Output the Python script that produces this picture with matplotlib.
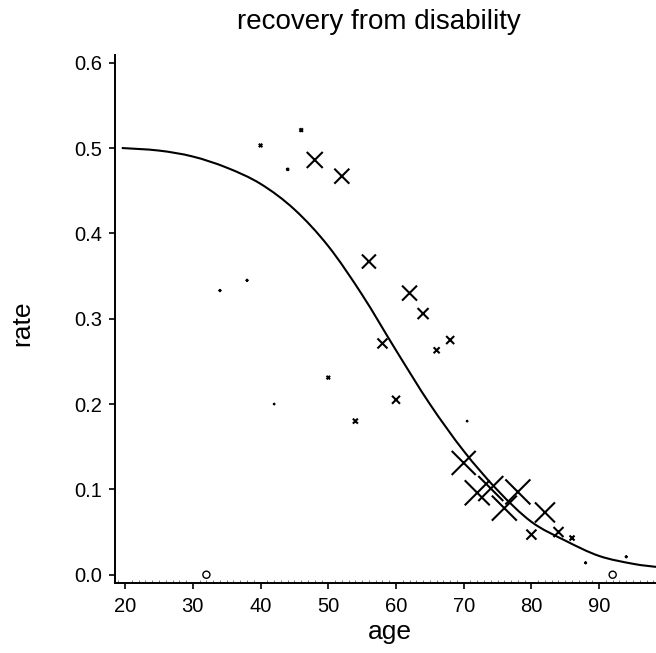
import numpy as np
import matplotlib
matplotlib.use("Agg")
import matplotlib.pyplot as plt
from matplotlib.path import Path
from matplotlib.patches import PathPatch

plt.rcParams['font.family'] = ['Liberation Sans', 'DejaVu Sans']

# observed crude recovery rates by age, with relative exposure (marker size)
ages = [34, 38, 40, 42, 44, 46, 48, 50, 52, 54, 56, 58, 60, 62, 64, 66, 68,
        70.5, 70, 72, 74, 76, 78, 80, 82, 84, 86, 88, 94]
rates = [0.333, 0.345, 0.503, 0.200, 0.475, 0.521, 0.486, 0.231, 0.467, 0.180,
         0.367, 0.271, 0.205, 0.330, 0.306, 0.263, 0.275,
         0.180, 0.131, 0.096, 0.101, 0.078, 0.097, 0.047, 0.073, 0.050, 0.043,
         0.014, 0.021]
exposure = [2, 2, 3.5, 1.5, 2.5, 3.5, 16, 3.5, 15, 5, 14, 10, 8, 15, 11, 6, 8,
            1.5, 24, 25, 25, 25, 25, 10, 20, 10, 5, 2, 2]

# zero-rate observations (open circles)
zero_ages = [32, 92]
zero_rates = [0.0, 0.0]

# fitted curve
curve_ages = [19.5, 25, 30, 35, 40, 45, 50, 55, 60, 65, 70, 75, 80, 85, 90, 95, 98.4]
curve_rates = [0.500, 0.497, 0.490, 0.477, 0.458, 0.428, 0.385, 0.328, 0.263,
               0.200, 0.145, 0.099, 0.062, 0.040, 0.022, 0.0128, 0.0092]

xticks = [20, 30, 40, 50, 60, 70, 80, 90]
yticks = [0.0, 0.1, 0.2, 0.3, 0.4, 0.5, 0.6]

fig = plt.figure(figsize=(6.56, 6.53), dpi=100)
ax = fig.add_axes([115/656, 1-583/653, 1-115/656, (583-55)/653])
ax.set_xlim(18.5, 98.4)
ax.set_ylim(-0.0097, 0.609)

# smooth curve through read points (Catmull-Rom -> cubic Bezier)
P = np.column_stack([curve_ages, curve_rates])
verts = [tuple(P[0])]
codes = [Path.MOVETO]
n = len(P)
for i in range(n - 1):
    p0 = P[i - 1] if i > 0 else P[i]
    p1 = P[i]
    p2 = P[i + 1]
    p3 = P[i + 2] if i + 2 < n else P[i + 1]
    c1 = p1 + (p2 - p0) / 6.0
    c2 = p2 - (p3 - p1) / 6.0
    verts += [tuple(c1), tuple(c2), tuple(p2)]
    codes += [Path.CURVE4] * 3
ax.add_patch(PathPatch(Path(verts, codes), fill=False, edgecolor='black',
                       lw=1.5, transform=ax.transData, clip_on=False))

sizes = [(e / 1.389) ** 2 for e in exposure]
ax.scatter(ages, rates, s=sizes, marker='x', color='black', linewidths=1.5,
           clip_on=False, zorder=3)
ax.scatter(zero_ages, zero_rates, s=26, marker='o', facecolors='none',
           edgecolors='black', linewidths=1.0, clip_on=False, zorder=3)

for side in ['top', 'right']:
    ax.spines[side].set_visible(False)
for side in ['left', 'bottom']:
    ax.spines[side].set_linewidth(1.4)

ax.set_xticks(xticks)
ax.set_xticklabels([str(t) for t in xticks])
ax.set_yticks(yticks)
ax.set_yticklabels([f"{t:.1f}" for t in yticks])
ax.set_xticks(np.arange(19, 99, 1), minor=True)
ax.tick_params(axis='both', which='major', labelsize=14.5, length=4, width=1.2,
               direction='out', color='black')
ax.tick_params(axis='x', which='major', pad=6)
ax.tick_params(axis='y', which='major', pad=5)
ax.tick_params(axis='x', which='minor', length=2.5, width=0.5, direction='in',
               color='#444444')

fig.text(0.577, 1 - 22/653, 'recovery from disability', ha='center',
         va='center', fontsize=20)
fig.text(390/656, 1 - 632/653, 'age', ha='center', va='center', fontsize=19)
fig.text(22/656, 1 - 323/653, 'rate', ha='center', va='center', fontsize=19,
         rotation=90)

fig.savefig('out.png', dpi=100)
